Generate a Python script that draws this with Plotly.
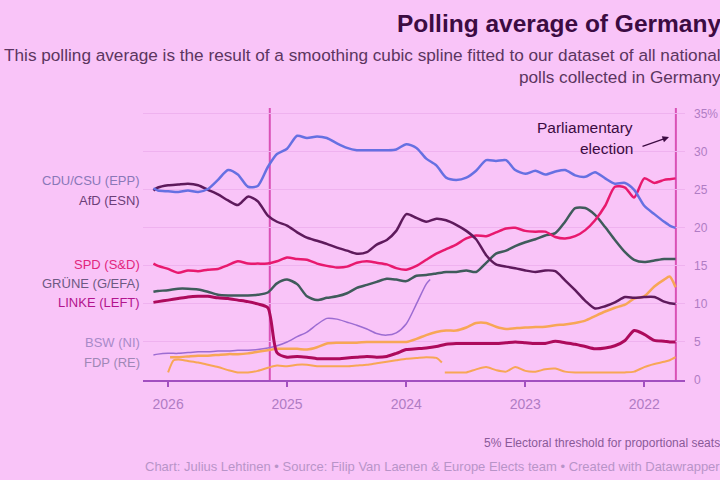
import plotly.graph_objects as go

# ---------------- data ----------------
months = (["2021-09-27", "2021-10-15", "2021-11-01", "2021-12-01"]
          + [f"{y}-{m:02d}-01" for y in (2022, 2023, 2024, 2025) for m in range(1, 13)]
          + ["2026-01-01", "2026-02-01", "2026-02-15"])

cdu = [20.0, 20.3, 20.8, 21.8,
       22.9, 25.0, 25.9, 25.8, 26.5, 27.3, 26.7, 26.9, 27.6, 27.4, 27.0, 27.5,
       27.1, 27.6, 28.9, 28.8, 28.9, 27.5, 26.6, 26.3, 26.6, 28.2, 29.1, 30.5,
       31.0, 30.3, 30.2, 30.2, 30.2, 30.2, 30.5, 31.1, 31.8, 32.0, 31.8, 32.1,
       30.4, 29.7, 28.0, 25.5, 25.4, 27.0, 27.6, 26.3, 25.1, 24.7, 24.9, 24.7,
       24.8, 24.9, 25.2]
afd = [10.0, 10.1, 10.3, 10.9,
       10.9, 10.8, 10.9, 10.2, 9.7, 9.4, 10.4, 11.8, 13.1, 14.3, 14.4, 14.2,
       14.4, 14.7, 14.9, 15.2, 16.4, 18.5, 19.6, 20.4, 21.0, 21.2, 20.8, 21.3,
       21.8, 19.6, 18.4, 17.8, 16.8, 16.6, 17.0, 17.4, 17.9, 18.3, 18.7, 19.4,
       20.3, 20.8, 21.6, 23.5, 24.1, 23.0, 23.6, 24.4, 25.0, 25.6, 25.8, 25.7,
       25.6, 25.3, 24.9]
spd = [26.5, 26.4, 26.3, 25.9,
       26.5, 24.0, 25.3, 25.4, 22.9, 21.0, 19.7, 18.9, 18.6, 18.8, 19.5, 19.5,
       19.6, 20.0, 19.9, 19.4, 18.9, 19.0, 18.6, 17.8, 17.2, 16.6, 15.8, 15.0,
       14.5, 14.7, 15.2, 15.4, 15.6, 15.4, 14.9, 14.8, 15.0, 15.3, 15.8, 15.9,
       16.1, 15.6, 15.3, 15.3, 15.3, 15.6, 15.1, 14.6, 14.5, 14.3, 14.4, 14.1,
       14.6, 15.0, 15.3]
gruene = [15.9, 15.9, 15.9, 15.7,
          15.5, 15.8, 16.8, 18.4, 20.1, 21.7, 22.6, 22.6, 20.8, 19.3, 19.0, 18.5,
          18.1, 17.6, 17.0, 16.6, 15.4, 14.2, 14.4, 14.2, 14.2, 14.0, 13.8, 13.7,
          13.0, 13.2, 13.3, 12.9, 12.5, 12.1, 11.4, 11.0, 10.8, 10.5, 11.0, 12.6,
          13.2, 12.7, 11.5, 11.2, 11.1, 11.1, 11.1, 11.2, 11.6, 11.9, 12.0, 12.0,
          11.8, 11.7, 11.6]
linke = [5.0, 5.0, 5.1, 5.2,
         6.0, 6.5, 5.2, 4.5, 4.2, 4.1, 4.4, 4.7, 4.9, 5.1, 4.8, 4.8,
         4.9, 5.0, 4.9, 4.8, 4.8, 4.8, 4.8, 4.8, 4.7, 4.4, 4.2, 4.1,
         4.0, 3.5, 3.1, 3.0, 3.1, 3.0, 2.9, 2.8, 2.8, 2.8, 3.0, 3.1,
         3.0, 3.6, 9.5, 10.0, 10.3, 10.5, 10.7, 10.8, 11.0, 11.0, 10.9, 10.7,
         10.5, 10.3, 10.2]

bsw_dates = (["2023-10-20", "2023-11-01", "2023-12-01"]
             + [f"{y}-{m:02d}-01" for y in (2024, 2025) for m in range(1, 13)]
             + ["2026-01-01", "2026-02-01", "2026-02-15"])
bsw = [13.2, 12.6, 10.0,
       7.4, 6.2, 5.9, 6.1, 6.7, 7.2, 7.6, 8.0, 8.1, 7.3, 6.3, 5.7,
       5.0, 4.5, 4.2, 4.0, 3.9, 3.9, 3.8, 3.8, 3.7, 3.7, 3.6, 3.5,
       3.5, 3.4, 3.3]

fdp_dates = months[:52] + ["2025-12-26"]
fdp = [12.2, 13.6, 13.2, 12.3,
       11.0, 10.7, 9.9, 9.5, 9.0, 8.4, 7.8, 7.5, 7.3, 7.2, 7.0, 6.95,
       6.9, 6.8, 6.7, 7.0, 7.5, 7.5, 6.9, 6.5, 6.5, 6.3, 5.9, 5.4,
       5.0, 5.0, 5.0, 5.0, 5.0, 4.9, 4.9, 4.9, 4.8, 4.3, 4.0, 4.1,
       4.1, 4.1, 3.9, 3.7, 3.5, 3.4, 3.4, 3.3, 3.2, 3.2, 3.1, 3.0,
       3.0]

re1_dates = months[:24] + ["2023-09-05"]
re1 = [3.0, 2.6, 2.4, 2.1,
       1.7, 1.1, 1.0, 1.0, 1.0, 1.0, 1.0, 1.0, 1.1, 1.5, 1.4, 1.1,
       1.2, 1.7, 1.1, 1.3, 1.7, 1.4, 1.0, 1.0,
       1.0]

re2_dates = (["2023-09-14", "2023-10-01", "2023-11-01", "2023-12-01"]
             + [f"{y}-{m:02d}-01" for y in (2024, 2025) for m in range(1, 13)]
             + ["2025-12-15", "2026-01-01"])
re2 = [2.3, 2.9, 3.0, 2.9,
       2.8, 2.6, 2.4, 2.2, 2.0, 1.9, 1.8, 1.8, 1.8, 1.8, 2.0, 2.0,
       1.8, 1.9, 1.6, 1.2, 1.0, 1.0, 1.3, 1.7, 2.0, 2.3, 2.5, 2.7,
       2.6, 1.0]

labels = ["CDU/CSU (EPP)", "AfD (ESN)", "SPD (S&D)", "GRÜNE (G/EFA)",
          "LINKE (LEFT)", "BSW (NI)", "FDP (RE)"]
elections = ["2021-09-26", "2025-02-23"]
year_ticks = ["2022-01-01", "2023-01-01", "2024-01-01", "2025-01-01", "2026-01-01"]
year_labels = ["2022", "2023", "2024", "2025", "2026"]
y_ticks = [0, 5, 10, 15, 20, 25, 30, 35]
y_labels = ["0", "5", "10", "15", "20", "25", "30", "35%"]

# ---------------- style ----------------
BG = "#f9c4f8"
FONT = "Liberation Sans, Arial, sans-serif"
C_CDU = "#6670e2"
C_AFD = "#5e1a5c"
C_SPD = "#e8196e"
C_GRN = "#3f5b5b"
C_LNK = "#ad0a5c"
C_BSW = "#9c6cd2"
C_FDP = "#f7a656"

L, R, T, B = 143, 35, 108, 100
W, H = 720, 480
PW, PH = W - L - R, H - T - B


def px(x):
    return (x - L) / PW


def py(y):
    return (H - B - y) / PH


fig = go.Figure()


def add(x, y, color, width):
    fig.add_trace(go.Scatter(x=x, y=y, mode="lines",
                             line=dict(color=color, width=width, shape="spline", smoothing=0.7),
                             hoverinfo="skip", showlegend=False))


add(re1_dates, re1, C_FDP, 2)
add(re2_dates, re2, C_FDP, 2)
add(bsw_dates, bsw, C_BSW, 1.5)
add(fdp_dates, fdp, C_FDP, 2.5)
add(months, gruene, C_GRN, 2.5)
add(months, spd, C_SPD, 2.5)
add(months, afd, C_AFD, 2.5)
add(months, cdu, C_CDU, 2.5)
add(months, linke, C_LNK, 3)

for d in elections:
    fig.add_shape(type="line", x0=d, x1=d, y0=0, y1=1, xref="x", yref="paper",
                  line=dict(color="#d951b6", width=2), layer="below")

annotations = []
label_y = [26.25, 23.6, 15.2, 12.7, 10.2, 4.9, 2.3]
label_c = ["#8a78b8", "#6c3e78", "#e2267c", "#6c5a82", "#b3148e", "#a88ac8", "#9f88b6"]
for t, yy, c in zip(labels, label_y, label_c):
    annotations.append(dict(text=t, x=px(142), y=yy, xref="paper", yref="y",
                            xanchor="right", yanchor="middle", showarrow=False,
                            font=dict(family=FONT, size=13, color=c)))

annotations += [
    dict(text="<b>Polling average of Germany</b>", x=px(723), y=py(23), xref="paper", yref="paper",
         xanchor="right", yanchor="middle", showarrow=False,
         font=dict(family=FONT, size=24.5, color="#3c0b42")),
    dict(text="This polling average is the result of a smoothing cubic spline fitted to our dataset of all national",
         x=px(723), y=py(55), xref="paper", yref="paper", xanchor="right", yanchor="middle",
         showarrow=False, font=dict(family=FONT, size=17.2, color="#5c3560")),
    dict(text="polls collected in Germany", x=px(723), y=py(77), xref="paper", yref="paper",
         xanchor="right", yanchor="middle", showarrow=False,
         font=dict(family=FONT, size=17.2, color="#5c3560")),
    dict(text="Parliamentary", x=px(635), y=py(127), xref="paper", yref="paper",
         xanchor="right", yanchor="middle", showarrow=False,
         font=dict(family=FONT, size=15.5, color="#3c0b42")),
    dict(text="election", x=px(635), y=py(148), xref="paper", yref="paper",
         xanchor="right", yanchor="middle", showarrow=False,
         font=dict(family=FONT, size=15.5, color="#3c0b42")),
    dict(text="", x=px(669), y=py(137), ax=-28, ay=10, xref="paper", yref="paper",
         showarrow=True, arrowhead=2, arrowsize=1,
         arrowwidth=1.3, arrowcolor="#3c0b42"),
    dict(text="5% Electoral threshold for proportional seats", x=px(722), y=py(443),
         xref="paper", yref="paper", xanchor="right", yanchor="middle", showarrow=False,
         font=dict(family=FONT, size=12, color="#8a5a98")),
    dict(text="Chart: Julius Lehtinen • Source: Filip Van Laenen & Europe Elects team • Created with Datawrapper",
         x=px(722), y=py(466), xref="paper", yref="paper", xanchor="right", yanchor="middle",
         showarrow=False, font=dict(family=FONT, size=13, color="#b894c8")),
]

fig.update_layout(
    width=W, height=H, margin=dict(l=L, r=R, t=T, b=B, autoexpand=False),
    paper_bgcolor=BG, plot_bgcolor=BG, showlegend=False,
    annotations=annotations,
    xaxis=dict(type="date", range=["2026-03-19", "2021-08-29"], automargin=False,
               tickvals=year_ticks, ticktext=year_labels,
               ticks="outside", ticklen=5, tickwidth=1.5, tickcolor="#a24fc0",
               showline=True, linecolor="#a24fc0", linewidth=2,
               showgrid=False, zeroline=False, ticklabelstandoff=5,
               tickfont=dict(family=FONT, size=14, color="#b07cc4")),
    yaxis=dict(range=[0, 35.75], side="right", tickvals=y_ticks, ticktext=y_labels,
               automargin=False,
               showgrid=True, gridcolor="#efb2ef", gridwidth=1, zeroline=False,
               showline=False, ticks="", ticklabelstandoff=8,
               tickfont=dict(family=FONT, size=12, color="#b07cc4")),
)

fig.write_html("out.html")
